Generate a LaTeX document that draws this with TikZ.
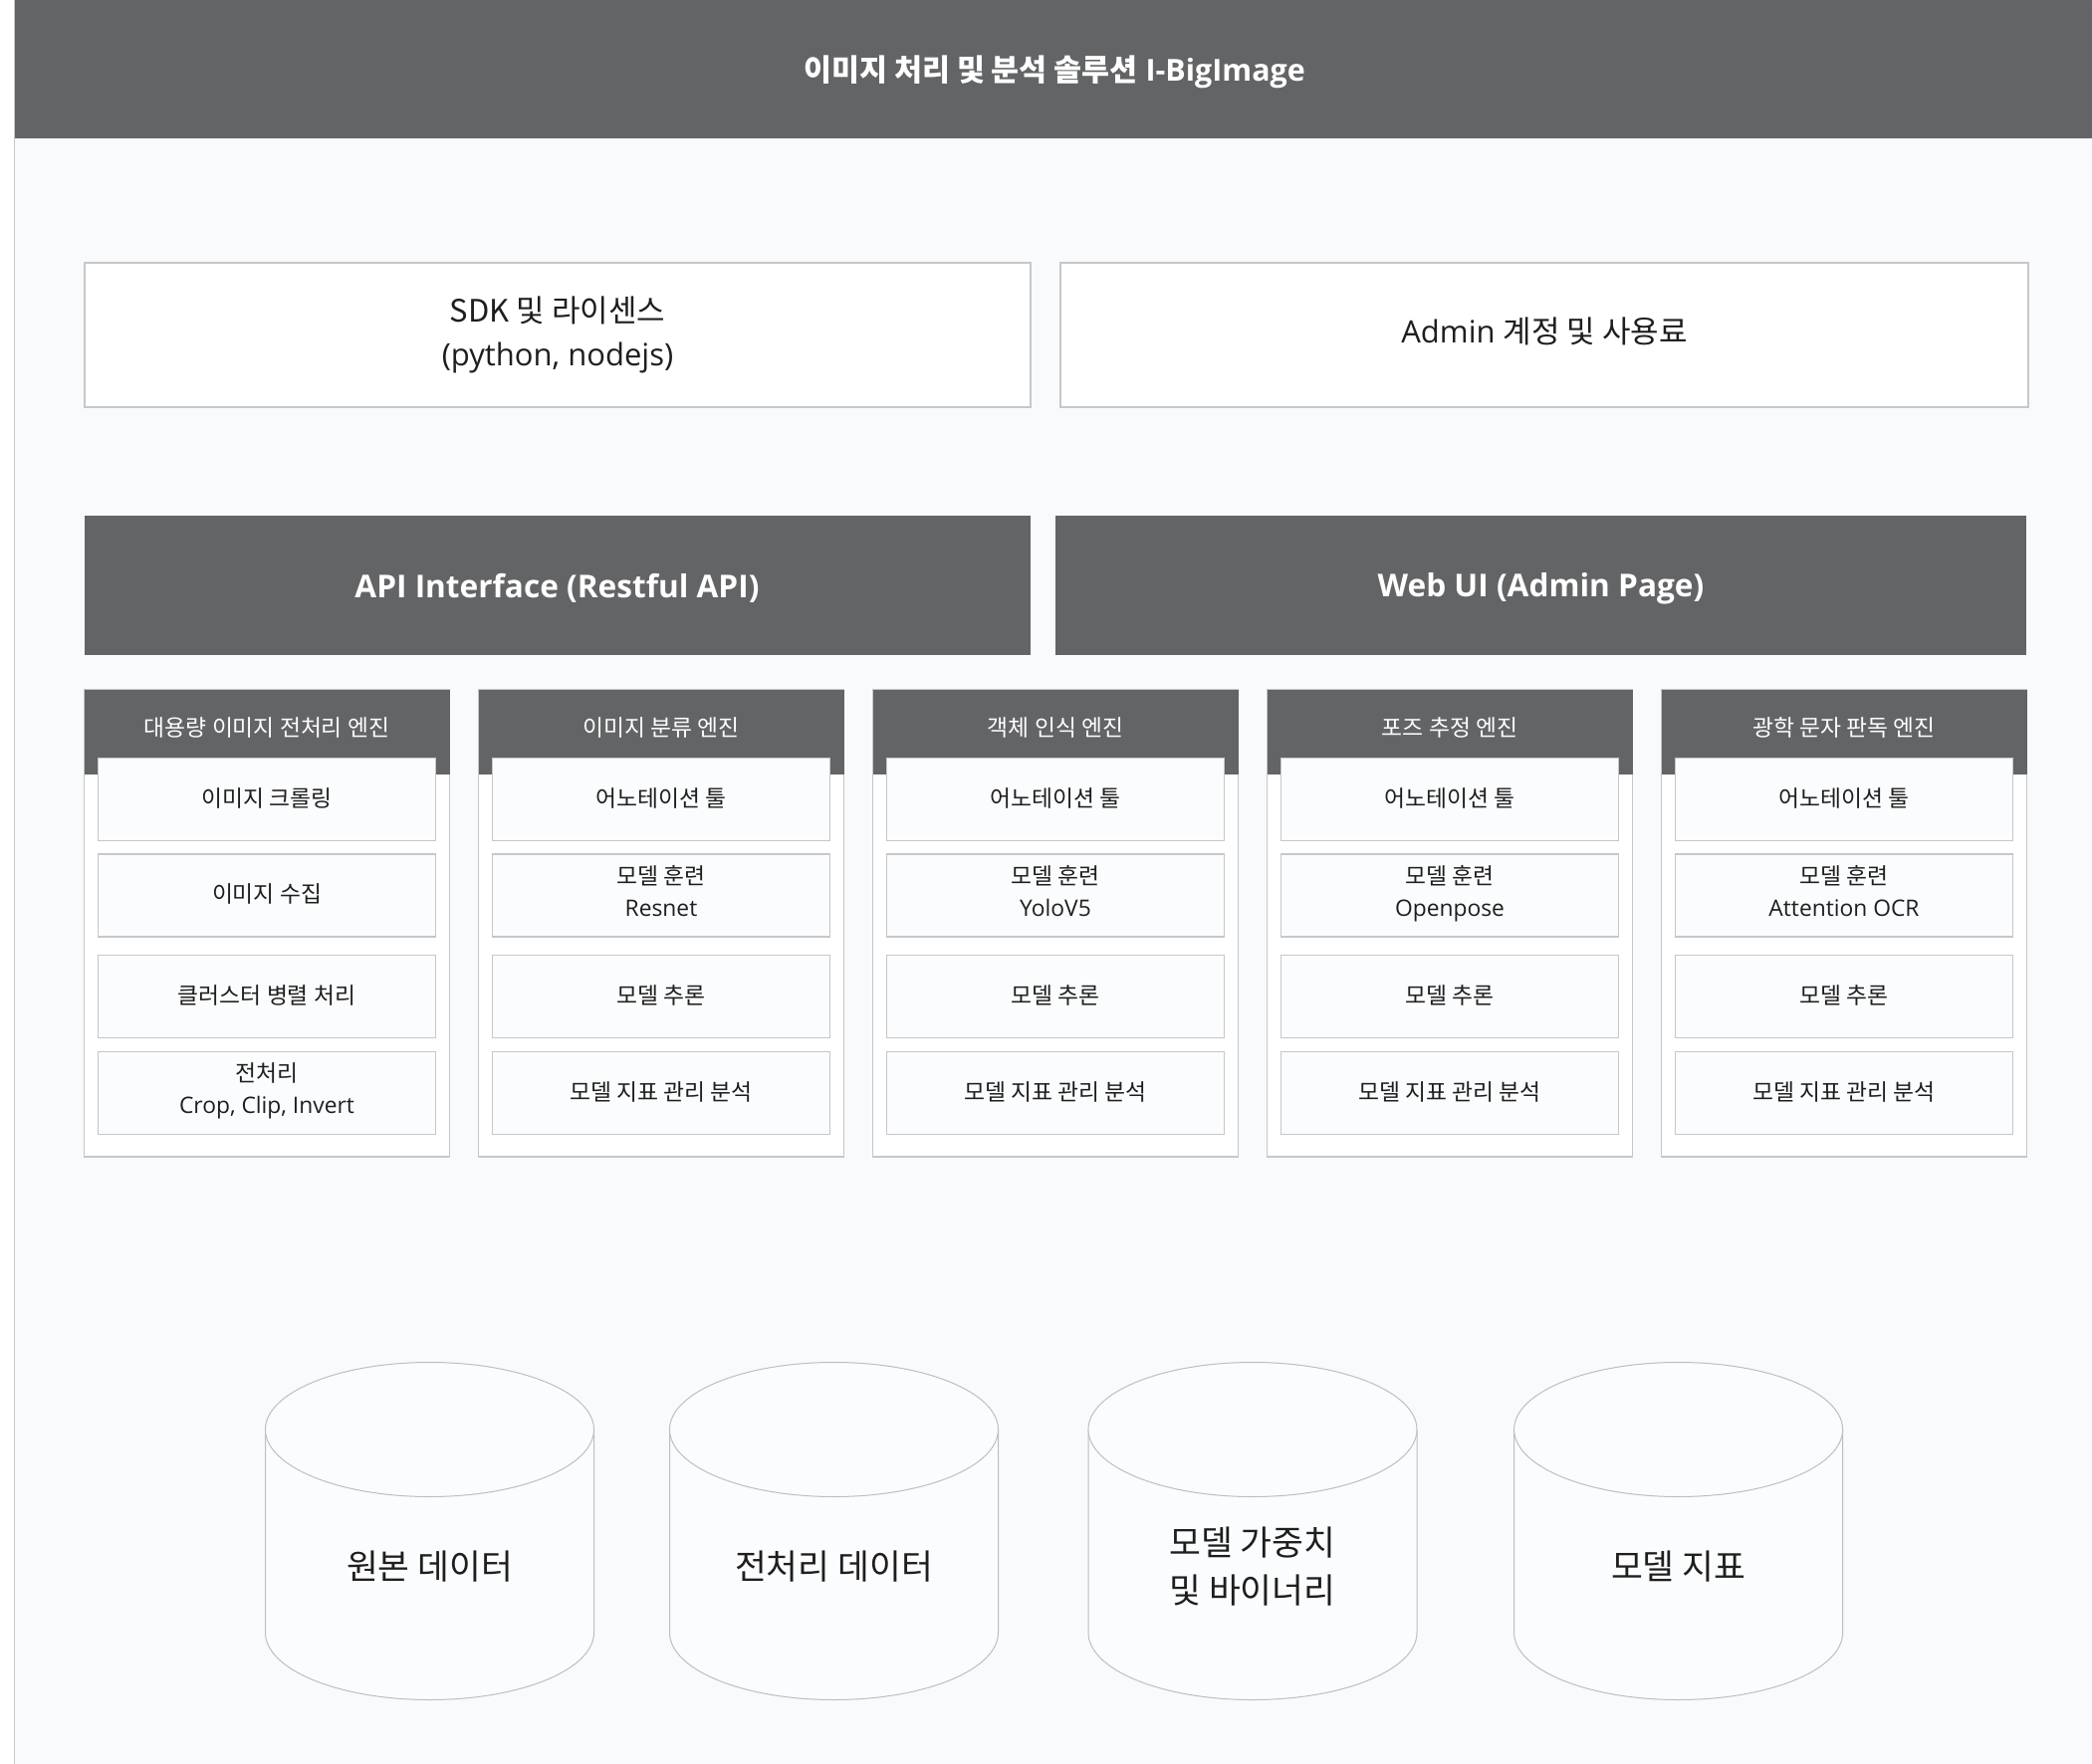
\documentclass[tikz,border=0pt]{standalone}
\usepackage{fontspec}
\setmainfont{Open Sans}
\newfontfamily\kr{Noto Sans CJK KR}
\newcommand\latn[1]{{\rmfamily #1}}
\newcommand\fsmall{\fontsize{11.4}{16}\selectfont}
\newcommand\flarge{\fontsize{15.5}{22}\selectfont}
\newcommand\fbar{\fontsize{15.8}{22}\selectfont}
\newcommand\fcyl{\fontsize{17.3}{24}\selectfont}
\newcommand\ftitle{\fontsize{15.2}{18}\selectfont}
\newcommand\rstrut{\rule[-4.7pt]{0pt}{16.4pt}}
\newcommand\lstrut{\rule[-6pt]{0pt}{19.8pt}}
\definecolor{darkc}{HTML}{636466}
\definecolor{bordc}{HTML}{C6C7CA}
\definecolor{bgc}{HTML}{F9FAFC}
\definecolor{innc}{HTML}{FBFCFD}
\definecolor{txtc}{HTML}{1E1E1E}
\definecolor{cylc}{HTML}{BDBEC1}
\tikzset{
  wbox/.style={draw=bordc, line width=0.75pt, fill=white, inner sep=0pt, align=center, text=txtc},
  darkbar/.style={fill=darkc, draw=none, inner sep=0pt},
  bartext/.style={text=white, inner sep=0pt, font=\fbar\bfseries},
  colbox/.style={draw=bordc, line width=0.75pt, fill=white, inner sep=0pt,
    minimum width=183.5pt, minimum height=234.5pt},
  hdrbox/.style={fill=darkc, draw=none, inner sep=0pt, minimum width=183.5pt, minimum height=42.25pt},
  hdrtext/.style={text=white, inner sep=0pt, font=\kr\fsmall, align=center},
  rowbox/.style={draw=bordc, line width=0.75pt, fill=innc, inner sep=0pt, align=center,
    text=txtc, font=\kr\fsmall, minimum width=169.5pt, minimum height=41.5pt,
    execute at begin node=\rstrut, execute at end node=\rstrut},
  cylshape/.style={draw=cylc, line width=0.5pt, fill=innc},
  cyltext/.style={text=txtc, inner sep=0pt, align=center, font=\kr\fcyl},
}
\newcommand\engine[7]{%
  \pgfmathsetmacro\cxe{84.5+396*#1+183.5}
  \node[colbox] (#2) at (\cxe,927.5) {};
  \node[hdrbox] (#2h) at (\cxe,735.25) {};
  \node[hdrtext] (#2t) at (\cxe,730.5) {#3};
  \node[rowbox] (#2a) at (\cxe,803) {#4};
  \node[rowbox] (#2b) at (\cxe,899.5) {#5};
  \node[rowbox] (#2c) at (\cxe,1001) {#6};
  \node[rowbox] (#2d) at (\cxe,1098) {#7};
}
\newcommand\cyl[3]{%
  \filldraw[cylshape] (#1-165,1436) -- (#1-165,1640)
    .. controls (#1-165,1677.28) and (#1-91.13,1707.5) .. (#1,1707.5)
    .. controls (#1+91.13,1707.5) and (#1+165,1677.28) .. (#1+165,1640)
    -- (#1+165,1436);
  \filldraw[cylshape] (#1,1436) ellipse [x radius=82.5pt, y radius=33.75pt];
  \node[cyltext] (#2) at (#1,1574) {#3};
}
\begin{document}
\begin{tikzpicture}[x=0.5pt,y=-0.5pt]
\useasboundingbox (0,0) rectangle (2101,1772);
% background
\fill[white] (0,0) rectangle (2101,1772);
\fill[bgc] (14.7,139) rectangle (2101,1772);
\draw[bordc, line width=0.6pt] (14.7,0) -- (14.7,1772);
% title bar
\node[darkbar, minimum width=1043.15pt, minimum height=69.5pt] (titlebar) at (1057.85,69.5) {};
\draw[black!60, line width=0.6pt] (14.7,0.6) -- (2101,0.6);
\node[text=white, inner sep=0pt, font=\ftitle\bfseries] (title) at (1059,72)
  {{\kr 이미지 처리 및 분석 솔루션} I-BigImage};
% top boxes
\node[wbox, minimum width=475pt, minimum height=72.5pt, font=\flarge] (sdk) at (560,336.5)
  {{\kr SDK 및 라이센스}\\(python, nodejs)};
\node[wbox, minimum width=486pt, minimum height=72.5pt, font=\flarge] (admin) at (1551,336.5)
  {\lstrut Admin {\kr 계정 및 사용료}};
% interface bars
\node[darkbar, minimum width=475pt, minimum height=69.75pt] (api) at (559.5,588) {};
\node[bartext] (apit) at (559.5,591) {API Interface (Restful API)};
\node[darkbar, minimum width=487.5pt, minimum height=69.75pt] (webui) at (1547.5,588) {};
\node[bartext] (webuit) at (1547.5,591) {Web UI (Admin Page)};
% engines
\engine{0}{pre}{대용량 이미지 전처리 엔진}{이미지 크롤링}{이미지 수집}{클러스터 병렬 처리}{전처리\\\latn{Crop, Clip, Invert}}
\engine{1}{cls}{이미지 분류 엔진}{어노테이션 툴}{모델 훈련\\\latn{Resnet}}{모델 추론}{모델 지표 관리 분석}
\engine{2}{det}{객체 인식 엔진}{어노테이션 툴}{모델 훈련\\\latn{YoloV5}}{모델 추론}{모델 지표 관리 분석}
\engine{3}{pose}{포즈 추정 엔진}{어노테이션 툴}{모델 훈련\\\latn{Openpose}}{모델 추론}{모델 지표 관리 분석}
\engine{4}{ocr}{광학 문자 판독 엔진}{어노테이션 툴}{모델 훈련\\\latn{Attention OCR}}{모델 추론}{모델 지표 관리 분석}
% storage cylinders
\cyl{431.5}{raw}{원본 데이터}
\cyl{837.5}{prep}{전처리 데이터}
\cyl{1258}{weights}{모델 가중치\\및 바이너리}
\cyl{1685.6}{metrics}{모델 지표}
\end{tikzpicture}
\end{document}
